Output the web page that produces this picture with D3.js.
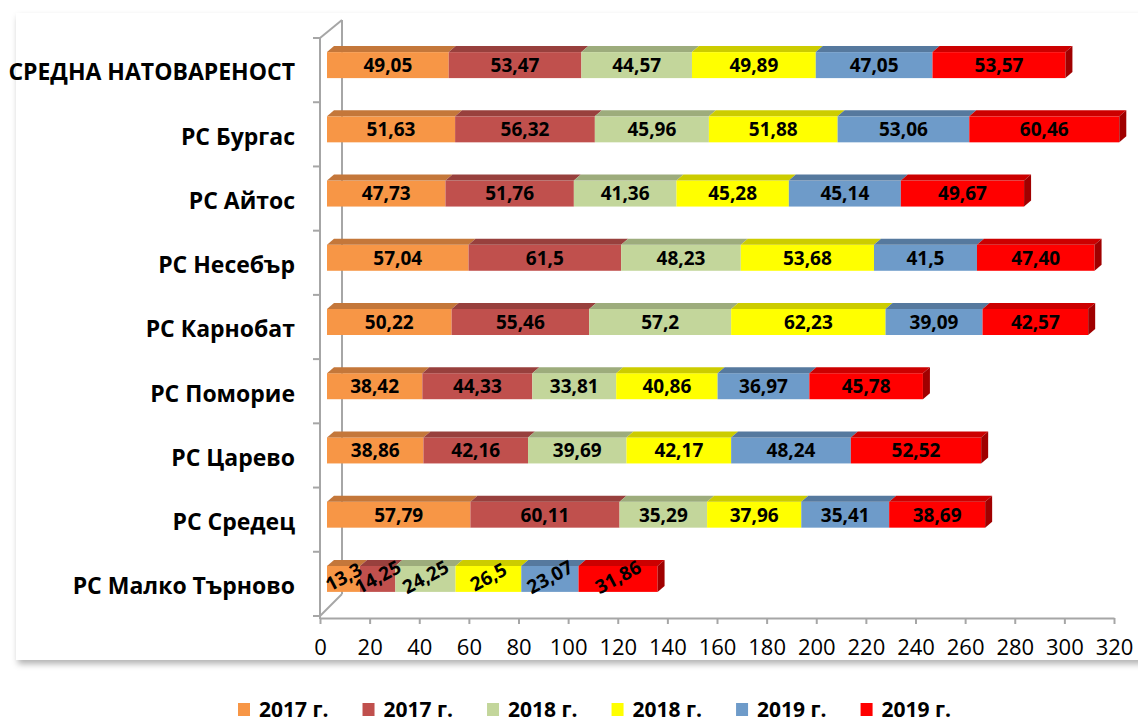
<!DOCTYPE html>
<html>
<head>
  <meta charset="utf-8">
  <title>Натовареност</title>
  <style>
    body { margin: 0; background: #fff; font-family: "Open Sans", Arial, sans-serif; }
    svg { display: block; }
  </style>
  <script src="https://d3js.org/d3.v7.min.js"></script>
</head>
<body>
  <svg id="chart" width="1138" height="723"></svg>
  <script>
    var categories = ["СРЕДНА НАТОВАРЕНОСТ", "РС Бургас", "РС Айтос", "РС Несебър", "РС Карнобат",
                      "РС Поморие", "РС Царево", "РС Средец", "РС Малко Търново"];
    var seriesNames = ["2017 г.", "2017 г.", "2018 г.", "2018 г.", "2019 г.", "2019 г."];

    // values as printed on the chart (decimal comma)
    var s2017a = ["49,05", "51,63", "47,73", "57,04", "50,22", "38,42", "38,86", "57,79", "13,3"];
    var s2017b = ["53,47", "56,32", "51,76", "61,5", "55,46", "44,33", "42,16", "60,11", "14,25"];
    var s2018a = ["44,57", "45,96", "41,36", "48,23", "57,2", "33,81", "39,69", "35,29", "24,25"];
    var s2018b = ["49,89", "51,88", "45,28", "53,68", "62,23", "40,86", "42,17", "37,96", "26,5"];
    var s2019a = ["47,05", "53,06", "45,14", "41,5", "39,09", "36,97", "48,24", "35,41", "23,07"];
    var s2019b = ["53,57", "60,46", "49,67", "47,40", "42,57", "45,78", "52,52", "38,69", "31,86"];
    var xTicks = [0, 20, 40, 60, 80, 100, 120, 140, 160, 180, 200, 220, 240, 260, 280, 300, 320];

    var seriesValues = [s2017a, s2017b, s2018a, s2018b, s2019a, s2019b];
    var frontColors = ["#F79646", "#C0504D", "#C3D69B", "#FFFF00", "#6E9BC9", "#FF0000"];
    var topColors   = ["#C4773A", "#98403D", "#9DAC7C", "#CCCC00", "#56799E", "#CC0000"];
    var sideColor = "#A00000";

    var svg = d3.select("#chart");
    var defs = svg.append("defs");
    var f = defs.append("filter").attr("id", "shadow")
        .attr("x", "-5%").attr("y", "-5%").attr("width", "110%").attr("height", "110%");
    f.append("feDropShadow").attr("dx", 2).attr("dy", 4).attr("stdDeviation", 3)
        .attr("flood-color", "#000").attr("flood-opacity", 0.3);

    // chart area box
    svg.append("rect")
        .attr("x", 16).attr("y", 13)
        .attr("width", 1140).attr("height", 647)
        .attr("fill", "#fff")
        .attr("filter", "url(#shadow)");

    var rows = categories.map(function(c, i) {
      var r = { cat: c };
      seriesValues.forEach(function(s, k) { r["s" + k] = +s[i].replace(",", "."); });
      return r;
    });
    var keys = seriesValues.map(function(s, k) { return "s" + k; });
    var stacked = d3.stack().keys(keys)(rows);

    var x = d3.scaleLinear().domain([0, 320]).range([320, 1114]);
    var y = d3.scaleBand().domain(categories).range([38, 616]);

    var depthX = 7, depthY = 6, barH = 26;
    var axisColor = "#A6A6A6";

    // back wall edge and depth diagonals
    var wall = svg.append("g").attr("stroke", axisColor).attr("stroke-width", 2).attr("fill", "none");
    wall.append("line").attr("x1", x(0) + 22).attr("x2", x(0) + 22).attr("y1", 20).attr("y2", 594);
    wall.append("line").attr("x1", x(0)).attr("x2", x(0) + 22).attr("y1", 38).attr("y2", 20);
    wall.append("line").attr("x1", x(0)).attr("x2", x(0) + 22).attr("y1", 616).attr("y2", 594);

    function barTop(cat) { return y(cat) + (y.bandwidth() - barH) / 2 - 5; }
    function bx(v) { return x(v) + depthX; }

    var bars = svg.append("g");
    stacked.forEach(function(layer, k) {
      var g = bars.append("g");
      g.selectAll("rect").data(layer).join("rect")
          .attr("x", function(d) { return bx(d[0]); })
          .attr("y", function(d) { return barTop(d.data.cat); })
          .attr("width", function(d) { return bx(d[1]) - bx(d[0]); })
          .attr("height", barH)
          .attr("fill", frontColors[k]);
      g.selectAll("path").data(layer).join("path")
          .attr("d", function(d) {
            var x0 = bx(d[0]), x1 = bx(d[1]), t = barTop(d.data.cat);
            return "M" + x0 + "," + t + "L" + x1 + "," + t + "L" + (x1 + depthX) + "," + (t - depthY) +
                   "L" + (x0 + depthX) + "," + (t - depthY) + "Z";
          })
          .attr("fill", topColors[k]);
    });
    // right side of the last segment
    var last = stacked[stacked.length - 1];
    bars.append("g").selectAll("path").data(last).join("path")
        .attr("d", function(d) {
          var x1 = bx(d[1]), t = barTop(d.data.cat);
          return "M" + x1 + "," + t + "L" + (x1 + depthX) + "," + (t - depthY) +
                 "L" + (x1 + depthX) + "," + (t - depthY + barH) + "L" + x1 + "," + (t + barH) + "Z";
        })
        .attr("fill", sideColor);

    // value labels
    var labels = svg.append("g")
        .attr("font-weight", "bold").attr("font-size", 19).attr("fill", "#000")
        .attr("text-anchor", "middle");
    stacked.forEach(function(layer, k) {
      layer.forEach(function(d, i) {
        var cx = (bx(d[0]) + bx(d[1])) / 2;
        var cy = barTop(d.data.cat) + barH / 2;
        var t = labels.append("text").text(seriesValues[k][i]);
        if (i === categories.length - 1) {
          t.attr("transform", "translate(" + cx + "," + (cy - 2) + ") rotate(-28)")
           .attr("dy", "0.36em");
        } else {
          t.attr("x", cx).attr("y", cy).attr("dy", "0.36em");
        }
      });
    });

    // front category axis
    var yAxis = svg.append("g").attr("stroke", axisColor).attr("stroke-width", 2);
    yAxis.append("line").attr("x1", x(0)).attr("x2", x(0)).attr("y1", 38).attr("y2", 619);
    yAxis.selectAll("line.tick")
        .data(categories.map(function(c) { return y(c); }).concat([616]))
        .join("line").attr("class", "tick")
        .attr("x1", x(0) - 7).attr("x2", x(0)).attr("y1", function(d) { return d; }).attr("y2", function(d) { return d; });

    svg.append("g").selectAll("text").data(categories).join("text")
        .attr("x", 295)
        .attr("y", function(d) { return y(d) + y.bandwidth() / 2 + 2; })
        .attr("dy", "0.36em")
        .attr("text-anchor", "end")
        .attr("font-weight", "bold").attr("font-size", 23)
        .text(function(d) { return d; });

    // value axis
    var xAxis = svg.append("g").attr("transform", "translate(0,618)")
        .call(d3.axisBottom(x).tickValues(xTicks).tickSize(6).tickSizeOuter(0).tickPadding(15));
    xAxis.select(".domain").attr("stroke", axisColor).attr("stroke-width", 2);
    xAxis.selectAll(".tick line").attr("stroke", axisColor).attr("stroke-width", 2);
    xAxis.selectAll(".tick text").attr("font-size", 22).attr("fill", "#000")
        .attr("font-family", "'Open Sans', Arial, sans-serif");

    // legend
    var legend = svg.append("g").attr("font-weight", "bold").attr("font-size", 21);
    var lx = 238;
    seriesNames.forEach(function(name, k) {
      legend.append("rect").attr("x", lx).attr("y", 703).attr("width", 12).attr("height", 13)
          .attr("fill", frontColors[k]);
      var t = legend.append("text").attr("x", lx + 21).attr("y", 709).attr("dy", "0.36em").text(name);
      lx += 21 + t.node().getComputedTextLength() + 34;
    });
  </script>
</body>
</html>
